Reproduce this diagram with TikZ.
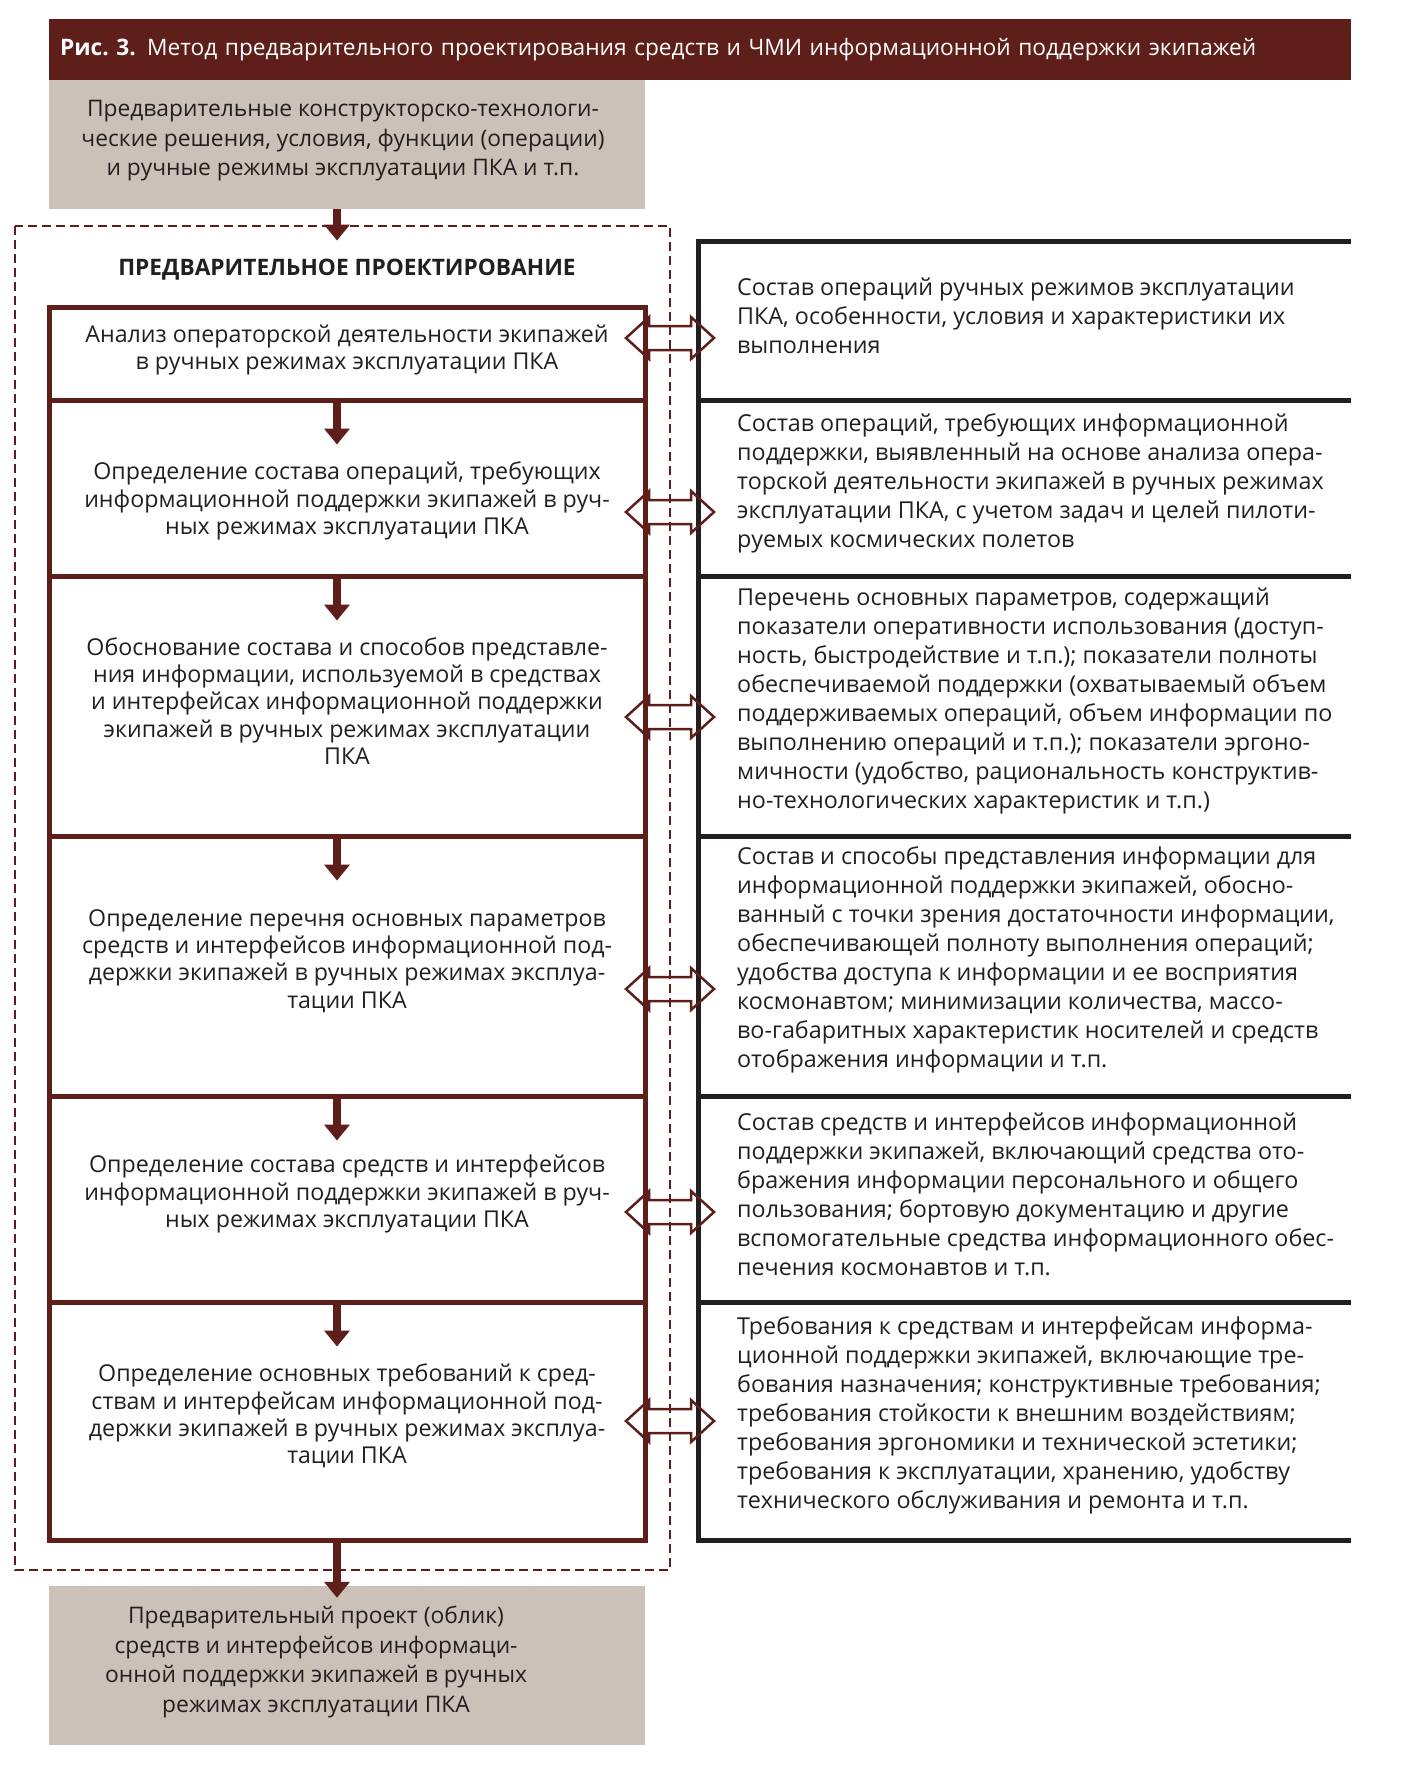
\documentclass[tikz,border=0pt]{standalone}
\usepackage{fontspec}
\setmainfont{Open Sans}
\usetikzlibrary{arrows.meta,calc}
\definecolor{maroon}{RGB}{94,30,26}
\definecolor{boxgray}{RGB}{203,193,184}
\definecolor{ink}{RGB}{35,31,32}
\begin{document}
\begin{tikzpicture}[x=1pt,y=-1pt,
  lbox/.style={draw=maroon, line width=5pt, minimum width=596pt, inner sep=0pt},
  ltext/.style={font=\fontsize{23.2}{27.3}\selectfont, align=center, text=ink, inner sep=0pt},
  rtext/.style={font=\fontsize{23.3}{29}\selectfont, align=left, text=ink, inner sep=0pt, anchor=west},
  graybox/.style={fill=boxgray, minimum width=596pt, inner sep=0pt},
  graytext/.style={align=center, text=ink, inner sep=0pt, font=\fontsize{22.8}{29.5}\selectfont},
  rline/.style={draw=ink, line width=5pt},
  downarr/.style={maroon, line width=8pt, -{Triangle[width=25pt,length=16pt]}},
  dblarrow/.pic={\draw[maroon, line width=2.5pt, line join=miter]
     (-44,0) -- (-21,-21) -- (-21,-12) -- (21,-12) -- (21,-21) -- (44,0)
     -- (21,21) -- (21,12) -- (-21,12) -- (-21,21) -- cycle;}
]
\useasboundingbox (0,0) rectangle (1411,1783);

% header
\node[fill=maroon, minimum width=1302pt, minimum height=61pt, text width=1280pt, inner xsep=11pt, inner ysep=0pt, align=left, text=white, font=\fontsize{22.7}{27}\selectfont] (H) at (700,49.5) {\textbf{Рис.~3.} Метод предварительного проектирования средств и ЧМИ информационной поддержки экипажей};

% top gray box
\node[graybox, minimum height=129pt] (T0) at (347,144.5) {};
\node[graytext] (T0t) at (343,141) {Предварительные конструкторско-технологи-\\ческие решения, условия, функции (операции)\\и ручные режимы эксплуатации ПКА и т.п.};

% dashed frame
\draw[maroon, line width=2pt, dash pattern=on 9pt off 5pt] (15,226) rectangle (670,1570);
\node[font=\bfseries\fontsize{22.7}{27}\selectfont, text=ink] (title) at (347,270) {ПРЕДВАРИТЕЛЬНОЕ ПРОЕКТИРОВАНИЕ};

% right column lines
\draw[rline] (698,238.5) -- (698,1542.5);
\foreach \yy in {241,400,576,836,1096,1302,1540} {\draw[rline] (698,\yy) -- (1351,\yy);}

% double arrows
\foreach \yy in {338,512,717,989,1212,1421} {\pic at (670,\yy) {dblarrow};}

% left boxes
\node[lbox, minimum height=93pt] (L1) at (347,353.5) {};
\node[lbox, minimum height=176pt] (L2) at (347,488) {};
\node[lbox, minimum height=260pt] (L3) at (347,706) {};
\node[lbox, minimum height=260pt] (L4) at (347,966) {};
\node[lbox, minimum height=206pt] (L5) at (347,1199) {};
\node[lbox, minimum height=238pt] (L6) at (347,1421) {};

\node[ltext] (L1t) at (347,350) {Анализ операторской деятельности экипажей\\в ручных режимах эксплуатации ПКА};
\node[ltext] (L2t) at (347,501) {Определение состава операций, требующих\\информационной поддержки экипажей в руч-\\ных режимах эксплуатации ПКА};
\node[ltext] (L3t) at (347,701) {Обоснование состава и способов представле-\\ния информации, используемой в средствах\\и интерфейсах информационной поддержки\\экипажей в ручных режимах эксплуатации\\ПКА};
\node[ltext] (L4t) at (347,961) {Определение перечня основных параметров\\средств и интерфейсов информационной под-\\держки экипажей в ручных режимах эксплуа-\\тации ПКА};
\node[ltext] (L5t) at (347,1194) {Определение состава средств и интерфейсов\\информационной поддержки экипажей в руч-\\ных режимах эксплуатации ПКА};
\node[ltext] (L6t) at (347,1416) {Определение основных требований к сред-\\ствам и интерфейсам информационной под-\\держки экипажей в ручных режимах эксплуа-\\тации ПКА};

% right texts
\node[rtext] (R1) at (737,316) {Состав операций ручных режимов эксплуатации\\ПКА, особенности, условия и характеристики их\\выполнения};
\node[rtext] (R2) at (737,483) {Состав операций, требующих информационной\\поддержки, выявленный на основе анализа опера-\\торской деятельности экипажей в ручных режимах\\эксплуатации ПКА, с учетом задач и целей пилоти-\\руемых космических полетов};
\node[rtext] (R3) at (737,701) {Перечень основных параметров, содержащий\\показатели оперативности использования (доступ-\\ность, быстродействие и т.п.); показатели полноты\\обеспечиваемой поддержки (охватываемый объем\\поддерживаемых операций, объем информации по\\выполнению операций и т.п.); показатели эргоно-\\мичности (удобство, рациональность конструктив-\\но-технологических характеристик и т.п.)};
\node[rtext] (R4) at (737,960) {Состав и способы представления информации для\\информационной поддержки экипажей, обосно-\\ванный с точки зрения достаточности информации,\\обеспечивающей полноту выполнения операций;\\удобства доступа к информации и ее восприятия\\космонавтом; минимизации количества, массо-\\во-габаритных характеристик носителей и средств\\отображения информации и т.п.};
\node[rtext] (R5) at (737,1194) {Состав средств и интерфейсов информационной\\поддержки экипажей, включающий средства ото-\\бражения информации персонального и общего\\пользования; бортовую документацию и другие\\вспомогательные средства информационного обес-\\печения космонавтов и т.п.};
\node[rtext] (R6) at (737,1415) {Требования к средствам и интерфейсам информа-\\ционной поддержки экипажей, включающие тре-\\бования назначения; конструктивные требования;\\требования стойкости к внешним воздействиям;\\требования эргономики и технической эстетики;\\требования к эксплуатации, хранению, удобству\\технического обслуживания и ремонта и т.п.};

% bottom gray box
\node[graybox, minimum height=159pt] (B) at (347,1665.5) {};
\node[graytext] (Bt) at (316,1662) {Предварительный проект (облик)\\средств и интерфейсов информаци-\\онной поддержки экипажей в ручных\\режимах эксплуатации ПКА};

% down arrows
\draw[downarr] ($(T0.south)+(-10,0)$) -- ($(L1.north)+(-10,-64)$);
\draw[downarr] ($(L2.north)+(-10,0)$) -- ++(0,47);
\draw[downarr] ($(L3.north)+(-10,0)$) -- ++(0,47);
\draw[downarr] ($(L4.north)+(-10,0)$) -- ++(0,47);
\draw[downarr] ($(L5.north)+(-10,0)$) -- ++(0,47);
\draw[downarr] ($(L6.north)+(-10,0)$) -- ++(0,47);
\draw[downarr] ($(L6.south)+(-10,0)$) -- ($(B.north)+(-10,12)$);
\end{tikzpicture}
\end{document}
